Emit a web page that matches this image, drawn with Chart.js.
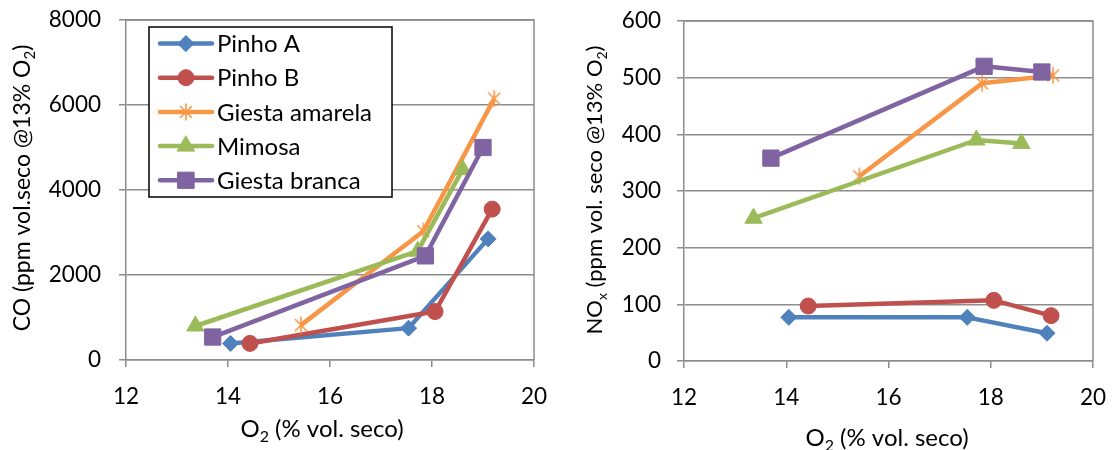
<!DOCTYPE html>
<html>
<head>
<meta charset="utf-8">
<script src="https://cdn.jsdelivr.net/npm/chart.js@4.4.1/dist/chart.umd.min.js"></script>
<style>
  html, body { margin: 0; padding: 0; background: #fff; }
  .panel { position: absolute; top: 0; width: 556px; height: 450px; }
  #panel-co { left: 0; }
  #panel-nox { left: 556px; }
</style>
</head>
<body>
<div class="panel" id="panel-co"><canvas id="coChart" width="556" height="450"></canvas></div>
<div class="panel" id="panel-nox"><canvas id="noxChart" width="556" height="450"></canvas></div>
<script>
// Amostras de biomassa
const species = ['Pinho A', 'Pinho B', 'Giesta amarela', 'Mimosa', 'Giesta branca'];

// O2 (% vol. seco) de cada ensaio
const o2PinhoA = [14.05, 17.54, 19.10];
const o2PinhoB = [14.43, 18.06, 19.18];
const o2GiestaAmarela = [15.43, 17.83, 19.22];
const o2Mimosa = [13.36, 17.72, 18.60];
const o2GiestaBranca = [13.70, 17.87, 19.00];

// CO (ppm vol. seco @13% O2)
const coPinhoA = [390, 750, 2850];
const coPinhoB = [390, 1140, 3550];
const coGiestaAmarela = [820, 3030, 6150];
const coMimosa = [800, 2560, 4480];
const coGiestaBranca = [540, 2450, 5000];

// NOx (ppm vol. seco @13% O2)
const noxPinhoA = [77, 77, 49];
const noxPinhoB = [97, 107, 80];
const noxGiestaAmarela = [326, 490, 504];
const noxMimosa = [252, 390, 384];
const noxGiestaBranca = [358, 520, 510];

// eixos
const o2Ticks = [12, 14, 16, 18, 20];
const coTicks = [0, 2000, 4000, 6000, 8000];
const noxTicks = [0, 100, 200, 300, 400, 500, 600];

const o2Lists = [o2PinhoA, o2PinhoB, o2GiestaAmarela, o2Mimosa, o2GiestaBranca];
const coLists = [coPinhoA, coPinhoB, coGiestaAmarela, coMimosa, coGiestaBranca];
const noxLists = [noxPinhoA, noxPinhoB, noxGiestaAmarela, noxMimosa, noxGiestaBranca];

const FONT = 'Lato';
const GRID = '#8c8c8c';
const colors = ['#4f81bd', '#c0504d', '#f79646', '#9bbb59', '#8064a2'];

// asterisco estilo Excel (X + traço vertical)
function makeAsterisk(color) {
    const c = document.createElement('canvas');
    c.width = 20;
    c.height = 20;
    const g = c.getContext('2d');
    g.strokeStyle = color;
    g.lineWidth = 1.6;
    g.beginPath();
    g.moveTo(10, 1.5); g.lineTo(10, 18.5);
    g.moveTo(4, 4); g.lineTo(16, 16);
    g.moveTo(16, 4); g.lineTo(4, 16);
    g.stroke();
    return c;
}

const markers = ['rectRot', 'circle', makeAsterisk(colors[2]), 'triangle', 'rect'];
const radii = [8, 8, 9, 10, 11.5];

function buildDatasets(yLists) {
    return species.map((name, i) => ({
        label: name,
        data: o2Lists[i].map((x, k) => ({ x: x, y: yLists[i][k] })),
        showLine: true,
        borderColor: colors[i],
        borderWidth: 4.5,
        borderJoinStyle: 'round',
        pointStyle: markers[i],
        pointRadius: radii[i],
        pointHoverRadius: radii[i],
        pointBackgroundColor: colors[i],
        pointBorderColor: colors[i],
        pointBorderWidth: 1,
        order: species.length - i,
        clip: false
    }));
}

// texto com índices (O2, NOx)
function drawRich(ctx, parts, x, y, angle, size) {
    const fontOf = sub => (sub ? Math.round(size * 0.65) : size) + 'px ' + FONT;
    ctx.save();
    ctx.translate(x, y);
    ctx.rotate(angle);
    ctx.fillStyle = '#000';
    ctx.textBaseline = 'alphabetic';
    ctx.textAlign = 'left';
    let total = 0;
    parts.forEach(p => { ctx.font = fontOf(p[1]); total += ctx.measureText(p[0]).width; });
    let cx = -total / 2;
    parts.forEach(p => {
        ctx.font = fontOf(p[1]);
        ctx.fillText(p[0], cx, p[1] ? 5 : 0);
        cx += ctx.measureText(p[0]).width;
    });
    ctx.restore();
}

// moldura superior e direita da área do gráfico
const framePlugin = {
    id: 'frame',
    beforeDatasetsDraw(chart) {
        const a = chart.chartArea;
        const ctx = chart.ctx;
        ctx.save();
        ctx.strokeStyle = GRID;
        ctx.lineWidth = 1.5;
        ctx.beginPath();
        ctx.moveTo(a.left, a.top);
        ctx.lineTo(a.right, a.top);
        ctx.lineTo(a.right, a.bottom);
        ctx.stroke();
        ctx.restore();
    }
};

const titlePlugin = {
    id: 'titles',
    afterDraw(chart, args, opts) {
        const ctx = chart.ctx;
        drawRich(ctx, opts.x.parts, opts.x.at[0], opts.x.at[1], 0, opts.x.size);
        drawRich(ctx, opts.y.parts, opts.y.at[0], opts.y.at[1], -Math.PI / 2, opts.y.size);
    }
};

// legenda em caixa, com linha e marcador
const boxLegendPlugin = {
    id: 'boxLegend',
    afterDatasetsDraw(chart, args, opts) {
        if (!opts.show) return;
        const ctx = chart.ctx;
        ctx.save();
        ctx.fillStyle = '#fff';
        ctx.fillRect(149, 27, 243, 170);
        ctx.strokeStyle = '#000';
        ctx.lineWidth = 1.5;
        ctx.strokeRect(149, 27, 243, 170);
        species.forEach((name, i) => {
            const y = 43.5 + i * 34.2;
            ctx.strokeStyle = colors[i];
            ctx.lineWidth = 4.5;
            ctx.lineCap = 'round';
            ctx.beginPath();
            ctx.moveTo(160, y);
            ctx.lineTo(212, y);
            ctx.stroke();
            ctx.fillStyle = colors[i];
            ctx.lineWidth = 1;
            Chart.helpers.drawPoint(ctx, { pointStyle: markers[i], radius: radii[i], rotation: 0, borderWidth: 1 }, 186, y);
            ctx.fillStyle = '#000';
            ctx.font = '24px ' + FONT;
            ctx.textBaseline = 'middle';
            ctx.textAlign = 'left';
            ctx.fillText(name, 217, y + 1);
        });
        ctx.restore();
    }
};

function makeChart(canvasId, yLists, yTicks, layout, titles, showLegend) {
    const ctx = document.getElementById(canvasId).getContext('2d');
    return new Chart(ctx, {
        type: 'scatter',
        data: { datasets: buildDatasets(yLists) },
        options: {
            responsive: false,
            animation: false,
            events: [],
            layout: { padding: { top: layout.top, right: layout.right, left: 0, bottom: 0 } },
            plugins: {
                legend: { display: false },
                tooltip: { enabled: false },
                titles: titles,
                boxLegend: { show: showLegend }
            },
            scales: {
                x: {
                    type: 'linear',
                    min: o2Ticks[0],
                    max: o2Ticks[o2Ticks.length - 1],
                    // área do gráfico fixa: ignora a folga pedida pelos rótulos
                    afterFit: s => { s.height = layout.xHeight; s.paddingLeft = 0; s.paddingRight = 0; },
                    ticks: {
                        stepSize: o2Ticks[1] - o2Ticks[0],
                        padding: 16,
                        color: '#000',
                        font: { family: FONT, size: 22.5 },
                        callback: v => String(v)
                    },
                    grid: { drawOnChartArea: false, drawTicks: true, tickLength: 7, color: GRID, lineWidth: 1.5 },
                    border: { color: GRID, width: 1.5 }
                },
                y: {
                    type: 'linear',
                    min: yTicks[0],
                    max: yTicks[yTicks.length - 1],
                    afterFit: s => { s.width = layout.yWidth; s.paddingTop = 0; s.paddingBottom = 0; },
                    ticks: {
                        stepSize: yTicks[1] - yTicks[0],
                        padding: layout.yPad,
                        color: '#000',
                        font: { family: FONT, size: 22.5 },
                        callback: v => String(v)
                    },
                    grid: { drawTicks: true, tickLength: 7, color: GRID, lineWidth: 1.5 },
                    border: { color: GRID, width: 1.5 }
                }
            }
        },
        plugins: [framePlugin, boxLegendPlugin, titlePlugin]
    });
}

makeChart('coChart', coLists, coTicks,
    { top: 20, right: 22, xHeight: 90, yWidth: 126, yPad: 18 },
    {
        x: { parts: [['O', 0], ['2', 1], [' (% vol. seco)', 0]], at: [322, 437], size: 24 },
        y: { parts: [['CO (ppm vol.seco @13% O', 0], ['2', 1], [')', 0]], at: [30, 188], size: 23 }
    },
    true);

makeChart('noxChart', noxLists, noxTicks,
    { top: 21, right: 19, xHeight: 89, yWidth: 128, yPad: 16 },
    {
        x: { parts: [['O', 0], ['2', 1], [' (% vol. seco)', 0]], at: [331, 446], size: 24 },
        y: { parts: [['NO', 0], ['x', 1], [' (ppm vol. seco @13% O', 0], ['2', 1], [')', 0]], at: [46, 190], size: 22 }
    },
    false);
</script>
</body>
</html>
